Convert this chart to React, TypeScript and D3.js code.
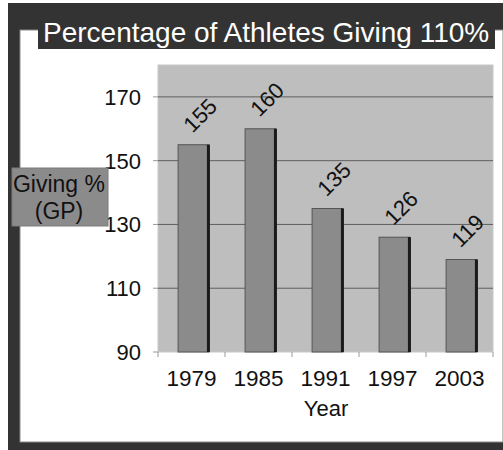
import React from "react";
import * as d3 from "d3";

const years = ["1979", "1985", "1991", "1997", "2003"];
const values = [155, 160, 135, 126, 119];
const yTicks = [90, 110, 130, 150, 170];
const title = "Percentage of Athletes Giving 110%";
const yLabelLines = ["Giving %", "(GP)"];
const xLabel = "Year";

const W = 503;
const H = 450;
const plot = { left: 158, right: 493, top: 65, bottom: 352 };
const FONT = "'Liberation Sans', Arial, sans-serif";

export default function App() {
  const x = d3.scaleBand<string>().domain(years).range([plot.left, plot.right]);
  const y = d3.scaleLinear().domain([90, 180]).range([plot.bottom, plot.top]);
  const bw = x.bandwidth();
  const barW = bw * 0.46;
  const barOff = bw * 0.3;

  return (
    <svg width={W} height={H} style={{ position: "absolute", left: 0, top: 0 }}>
      <rect x={0} y={0} width={W} height={H} fill="#ffffff" />
      {/* dark frame */}
      <rect x={8} y={3} width={W - 8} height={H - 3} fill="#333333" />
      <rect x={20} y={30} width={W - 20} height={412} fill="#ffffff" stroke="#8a8a8a" strokeWidth={1} />
      {/* title box */}
      <rect x={38} y={3} width={457} height={46} fill="#333333" />
      <text x={43} y={42} fill="#ffffff" fontFamily={FONT} fontSize={28}>
        {title}
      </text>
      {/* plot background */}
      <rect
        x={plot.left}
        y={plot.top}
        width={plot.right - plot.left}
        height={plot.bottom - plot.top}
        fill="#bebebe"
        stroke="#c8c8c8"
        strokeWidth={1}
      />
      {/* gridlines */}
      {yTicks.slice(1).map((t) => (
        <line key={t} x1={plot.left} x2={plot.right} y1={y(t)} y2={y(t)} stroke="#5f5f5f" strokeWidth={1} />
      ))}
      {/* y ticks & labels */}
      {yTicks.map((t) => (
        <g key={"yt" + t}>
          <line x1={plot.left - 5} x2={plot.left} y1={y(t)} y2={y(t)} stroke="#999" strokeWidth={1} />
          <text x={141} y={y(t) + 8} textAnchor="end" fontFamily={FONT} fontSize={22} fill="#111">
            {t}
          </text>
        </g>
      ))}
      {/* x ticks */}
      {years.concat(["end"]).map((yr, i) => {
        const xx = plot.left + i * bw;
        return <line key={"xt" + i} x1={xx} x2={xx} y1={plot.bottom} y2={plot.bottom + 5} stroke="#999" strokeWidth={1} />;
      })}
      {/* bars */}
      {years.map((yr, i) => {
        const bx = (x(yr) as number) + barOff;
        const by = y(values[i]);
        const bh = plot.bottom - by;
        return (
          <g key={yr}>
            <rect x={bx} y={by} width={barW} height={bh} fill="#8b8b8b" stroke="#555" strokeWidth={1} />
            <rect x={bx + barW - 2} y={by} width={3} height={bh} fill="#1a1a1a" />
          </g>
        );
      })}
      {/* value labels */}
      {years.map((yr, i) => {
        const cx = (x(yr) as number) + barOff + barW / 2 - 1;
        const ly = y(values[i]) - 11;
        return (
          <text
            key={"v" + yr}
            transform={`translate(${cx},${ly}) rotate(-45)`}
            fontFamily={FONT}
            fontSize={22}
            fill="#111"
          >
            {values[i]}
          </text>
        );
      })}
      {/* x labels */}
      {years.map((yr) => (
        <text
          key={"xl" + yr}
          x={(x(yr) as number) + bw / 2}
          y={386}
          textAnchor="middle"
          fontFamily={FONT}
          fontSize={22.5}
          fill="#111"
        >
          {yr}
        </text>
      ))}
      <text x={326} y={416} textAnchor="middle" fontFamily={FONT} fontSize={22} fill="#111">
        {xLabel}
      </text>
      {/* y label box */}
      <rect x={12} y={168} width={96} height={58} fill="#8b8b8b" stroke="#7a7a7a" strokeWidth={1} />
      {yLabelLines.map((l, i) => (
        <text key={l} x={59} y={192 + i * 27} textAnchor="middle" fontFamily={FONT} fontSize={23} fill="#111">
          {l}
        </text>
      ))}
    </svg>
  );
}
